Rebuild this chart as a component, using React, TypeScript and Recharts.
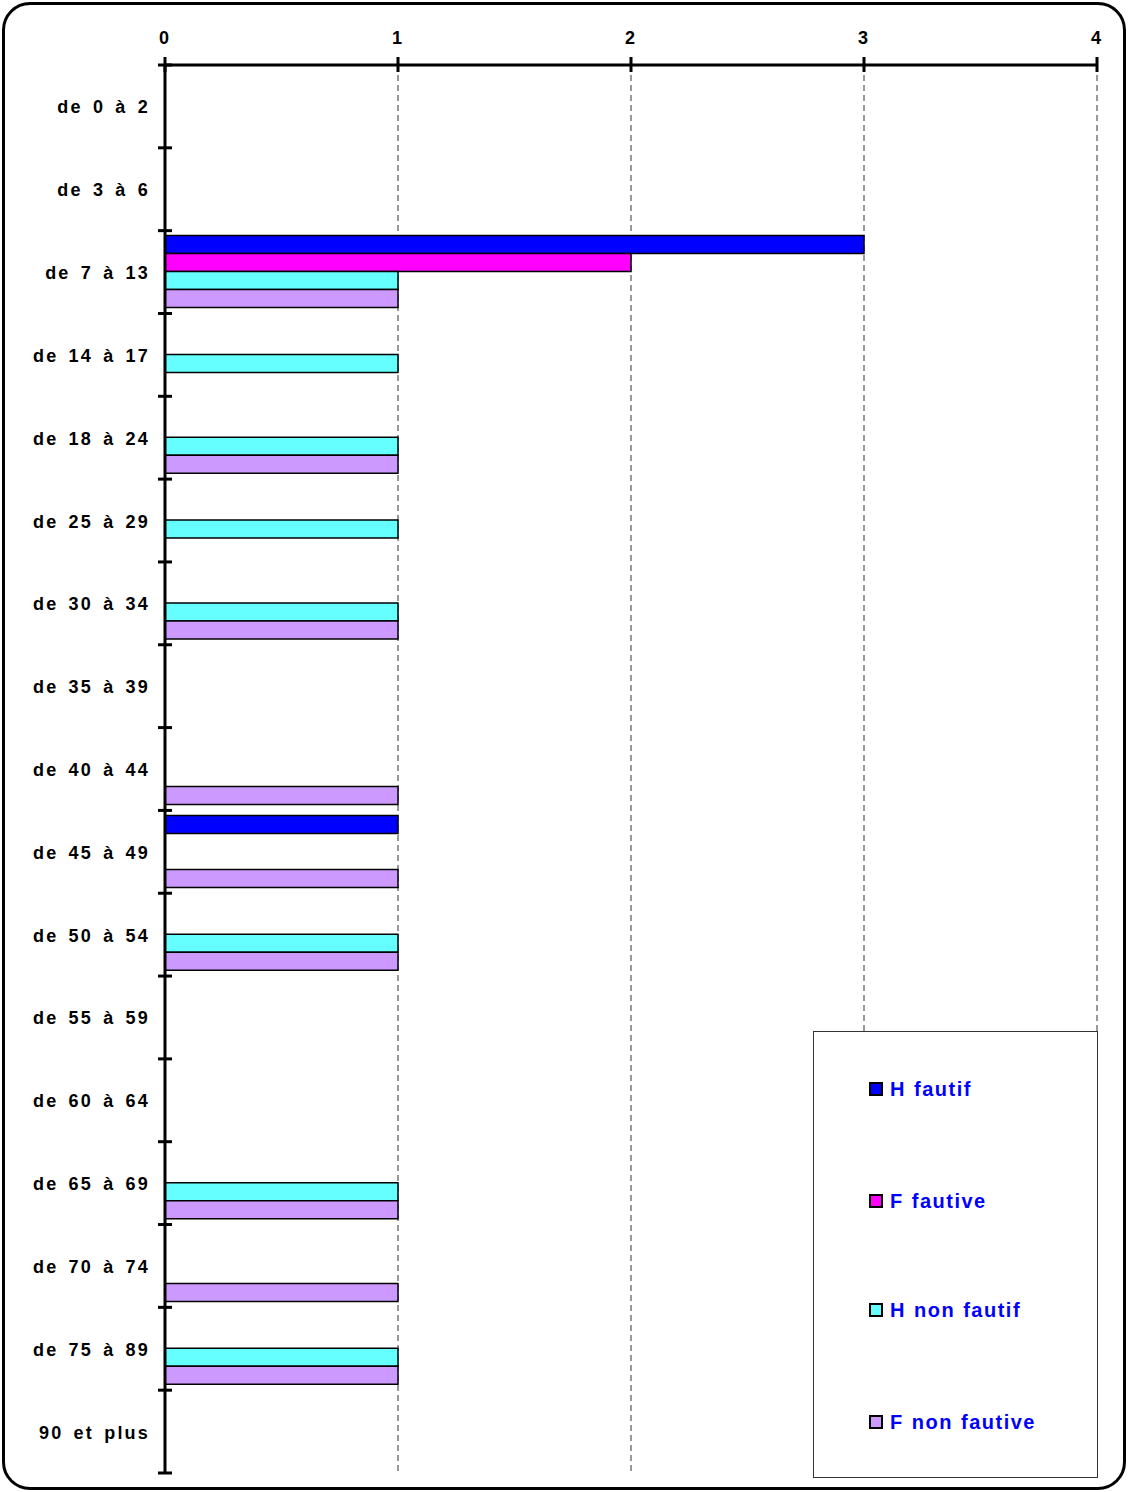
import React from "react";
import { BarChart, Bar, XAxis, YAxis, CartesianGrid } from "recharts";

const categories = [
  "de 0 à 2", "de 3 à 6", "de 7 à 13", "de 14 à 17", "de 18 à 24", "de 25 à 29",
  "de 30 à 34", "de 35 à 39", "de 40 à 44", "de 45 à 49", "de 50 à 54", "de 55 à 59",
  "de 60 à 64", "de 65 à 69", "de 70 à 74", "de 75 à 89", "90 et plus",
];
const hFautif = [null, null, 3, null, null, null, null, null, null, 1, null, null, null, null, null, null, null];
const fFautive = [null, null, 2, null, null, null, null, null, null, null, null, null, null, null, null, null, null];
const hNonFautif = [null, null, 1, 1, 1, 1, 1, null, null, null, 1, null, null, 1, null, 1, null];
const fNonFautive = [null, null, 1, null, 1, null, 1, null, 1, 1, 1, null, null, 1, 1, 1, null];
const xTicks = [0, 1, 2, 3, 4];

const series = [
  { key: "hFautif", name: "H fautif", color: "#0000FF", values: hFautif },
  { key: "fFautive", name: "F fautive", color: "#FF00FF", values: fFautive },
  { key: "hNonFautif", name: "H non fautif", color: "#66FFFF", values: hNonFautif },
  { key: "fNonFautive", name: "F non fautive", color: "#CC99FF", values: fNonFautive },
];

const data = categories.map((cat, i) => {
  const row: any = { cat };
  series.forEach((s) => {
    row[s.key] = s.values[i];
  });
  return row;
});

const FONT = "'Liberation Sans', Arial, sans-serif";
const W = 1128;
const H = 1492;

const YTick = (props: any) => {
  const { x, y, payload, index } = props;
  const off = payload && payload.offset ? payload.offset : (1408 / categories.length) / 2;
  return (
    <g>
      <line x1={x - 7} x2={x + 7} y1={y - off} y2={y - off} stroke="#000" strokeWidth={3} />
      {index === categories.length - 1 && (
        <line x1={x - 7} x2={x + 7} y1={y + off} y2={y + off} stroke="#000" strokeWidth={3} />
      )}
      <text
        x={x - 15}
        y={y}
        dy={7}
        textAnchor="end"
        fontFamily={FONT}
        fontWeight="bold"
        fontSize={18}
        fill="#000"
        style={{ letterSpacing: "2.2px", wordSpacing: "3px" }}
      >
        {payload.value}
      </text>
    </g>
  );
};

const XTick = (props: any) => {
  const { x, y, payload } = props;
  return (
    <g>
      <line x1={x} x2={x} y1={y - 8} y2={y + 7} stroke="#000" strokeWidth={3} />
      <text
        x={x - 1}
        y={y - 21}
        textAnchor="middle"
        fontFamily={FONT}
        fontWeight="bold"
        fontSize={18}
        fill="#000"
      >
        {payload.value}
      </text>
    </g>
  );
};

const LegendBox = () => (
  <div
    style={{
      position: "absolute",
      left: 813,
      top: 1031,
      width: 285,
      height: 447,
      boxSizing: "border-box",
      border: "1px solid #333",
      background: "#fff",
      fontFamily: FONT,
    }}
  >
    {series.map((s, i) => {
      const centers = [57, 169, 278, 390];
      return (
        <div
          key={s.key}
          style={{
            position: "absolute",
            left: 55,
            top: centers[i] - 14,
            height: 28,
            display: "flex",
            alignItems: "center",
          }}
        >
          <span
            style={{
              display: "inline-block",
              width: 10,
              height: 10,
              background: s.color,
              border: "2px solid #000",
              marginRight: 7,
            }}
          />
          <span
            style={{
              color: "#0000FF",
              fontWeight: "bold",
              fontSize: 20,
              letterSpacing: "1.5px",
              wordSpacing: "1px",
              whiteSpace: "nowrap",
            }}
          >
            {s.name}
          </span>
        </div>
      );
    })}
  </div>
);

export default function App() {
  return (
    <div style={{ position: "absolute", left: 0, top: 0, width: W, height: H, background: "#fff" }}>
      <div style={{ position: "absolute", left: 0, top: 0 }}>
        <BarChart
          width={W}
          height={H}
          data={data}
          layout="vertical"
          margin={{ top: 35, right: 31, bottom: 19, left: 15 }}
          barCategoryGap="6%"
          barGap={0}
        >
          <CartesianGrid horizontal={false} stroke="#333" strokeDasharray="6 4" />
          <XAxis
            type="number"
            orientation="top"
            domain={[0, 4]}
            ticks={xTicks}
            height={30}
            tickSize={0}
            tickMargin={0}
            tickLine={false}
            axisLine={{ stroke: "#000", strokeWidth: 3 }}
            tick={<XTick />}
            interval={0}
          />
          <YAxis
            type="category"
            dataKey="cat"
            width={150}
            tickSize={0}
            tickMargin={0}
            tickLine={false}
            axisLine={{ stroke: "#000", strokeWidth: 3 }}
            tick={<YTick />}
            interval={0}
          />
          {series.map((s) => (
            <Bar
              key={s.key}
              dataKey={s.key}
              name={s.name}
              fill={s.color}
              stroke="#000"
              strokeWidth={1.5}
              isAnimationActive={false}
            />
          ))}
        </BarChart>
      </div>
      <LegendBox />
      <div
        style={{
          position: "absolute",
          left: 2,
          top: 2,
          width: W - 4,
          height: H - 4,
          boxSizing: "border-box",
          border: "3px solid #000",
          borderRadius: 28,
          pointerEvents: "none",
        }}
      />
    </div>
  );
}
